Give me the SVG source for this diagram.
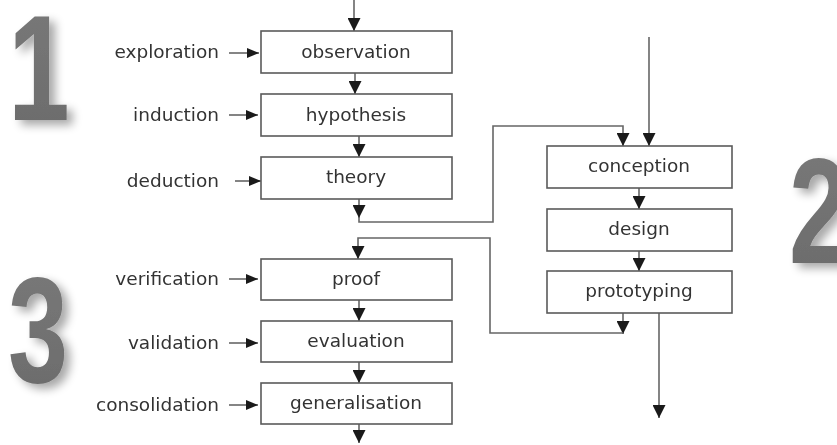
<svg xmlns="http://www.w3.org/2000/svg" width="837" height="445" viewBox="0 0 837 445">
<style>
.box{fill:#fff;stroke:#5a5a5a;stroke-width:1.6}
.t{font-family:"DejaVu Sans",Verdana,sans-serif;font-size:18.5px;fill:#333;text-anchor:middle}
.l{font-family:"DejaVu Sans",Verdana,sans-serif;font-size:18.5px;fill:#333;text-anchor:end}
.c{fill:none;stroke:#666;stroke-width:1.6}
.big{font-family:"Liberation Sans",Arial,sans-serif;font-weight:bold;font-size:150px;fill:url(#g)}
</style>
<defs>
<marker id="a" viewBox="0 0 12 12" markerUnits="userSpaceOnUse" markerWidth="13" markerHeight="13" refX="12" refY="6" orient="auto">
<path d="M0,0 L12,6 L0,12 z" fill="#1a1a1a"/>
</marker>
<marker id="s" viewBox="0 0 12 10" markerUnits="userSpaceOnUse" markerWidth="13" markerHeight="10" refX="12" refY="5" orient="auto">
<path d="M0,0 L12,5 L0,10 z" fill="#1a1a1a"/>
</marker>
<linearGradient id="g" x1="0" y1="0" x2="0" y2="1">
<stop offset="0" stop-color="#7a7a7a"/>
<stop offset="1" stop-color="#6a6a6a"/>
</linearGradient>
<filter id="sh" x="-30%" y="-30%" width="170%" height="170%">
<feGaussianBlur in="SourceAlpha" stdDeviation="5"/>
<feOffset dx="6" dy="5" result="b"/>
<feComponentTransfer><feFuncA type="linear" slope="0.35"/></feComponentTransfer>
<feMerge><feMergeNode/><feMergeNode in="SourceGraphic"/></feMerge>
</filter>
</defs>

<g id="digits" filter="url(#sh)">
<text class="big" transform="translate(8,120) scale(0.74,1)">1</text>
<text class="big" transform="translate(8,382) scale(0.72,1)">3</text>
<text class="big" transform="translate(789,263) scale(0.72,1)">2</text>
</g>

<g id="connectors">
<line class="c" x1="354" y1="0" x2="354" y2="31" marker-end="url(#a)"/>
<line class="c" x1="355" y1="73" x2="355" y2="94" marker-end="url(#a)"/>
<line class="c" x1="359" y1="136" x2="359" y2="157" marker-end="url(#a)"/>
<line class="c" x1="359" y1="199" x2="359" y2="218" marker-end="url(#a)"/>
<path class="c" d="M359,217 V222 H493 V126 H623 V146" marker-end="url(#a)"/>
<line class="c" x1="649" y1="37" x2="649" y2="146" marker-end="url(#a)"/>
<line class="c" x1="639" y1="188" x2="639" y2="209" marker-end="url(#a)"/>
<line class="c" x1="639" y1="251" x2="639" y2="271" marker-end="url(#a)"/>
<line class="c" x1="623" y1="313" x2="623" y2="334" marker-end="url(#a)"/>
<path class="c" d="M623,333 H490 V238 H358 V259" marker-end="url(#a)"/>
<line class="c" x1="659" y1="313" x2="659" y2="418" marker-end="url(#a)"/>
<line class="c" x1="359" y1="300" x2="359" y2="321" marker-end="url(#a)"/>
<line class="c" x1="359" y1="362" x2="359" y2="383" marker-end="url(#a)"/>
<line class="c" x1="359" y1="424" x2="359" y2="443" marker-end="url(#a)"/>
<line class="c" x1="229" y1="53" x2="259" y2="53" marker-end="url(#s)"/>
<line class="c" x1="229" y1="115" x2="258" y2="115" marker-end="url(#s)"/>
<line class="c" x1="235" y1="181" x2="261" y2="181" marker-end="url(#s)"/>
<line class="c" x1="229" y1="279" x2="258" y2="279" marker-end="url(#s)"/>
<line class="c" x1="229" y1="343" x2="258" y2="343" marker-end="url(#s)"/>
<line class="c" x1="229" y1="405" x2="258" y2="405" marker-end="url(#s)"/>
</g>

<g id="observation"><rect class="box" x="261" y="31" width="191" height="42"/><text class="t" x="356" y="58">observation</text></g>
<g id="hypothesis"><rect class="box" x="261" y="94" width="191" height="42"/><text class="t" x="356" y="121">hypothesis</text></g>
<g id="theory"><rect class="box" x="261" y="157" width="191" height="42"/><text class="t" x="356" y="183">theory</text></g>
<g id="proof"><rect class="box" x="261" y="259" width="191" height="41"/><text class="t" x="356" y="285">proof</text></g>
<g id="evaluation"><rect class="box" x="261" y="321" width="191" height="41"/><text class="t" x="356" y="347">evaluation</text></g>
<g id="generalisation"><rect class="box" x="261" y="383" width="191" height="41"/><text class="t" x="356" y="409">generalisation</text></g>
<g id="conception"><rect class="box" x="547" y="146" width="185" height="42"/><text class="t" x="639" y="172">conception</text></g>
<g id="design"><rect class="box" x="547" y="209" width="185" height="42"/><text class="t" x="639" y="235">design</text></g>
<g id="prototyping"><rect class="box" x="547" y="271" width="185" height="42"/><text class="t" x="639" y="297">prototyping</text></g>

<g id="labels">
<text class="l" x="219" y="58">exploration</text>
<text class="l" x="219" y="121">induction</text>
<text class="l" x="219" y="187">deduction</text>
<text class="l" x="219" y="285">verification</text>
<text class="l" x="219" y="349">validation</text>
<text class="l" x="219" y="411">consolidation</text>
</g>
</svg>
